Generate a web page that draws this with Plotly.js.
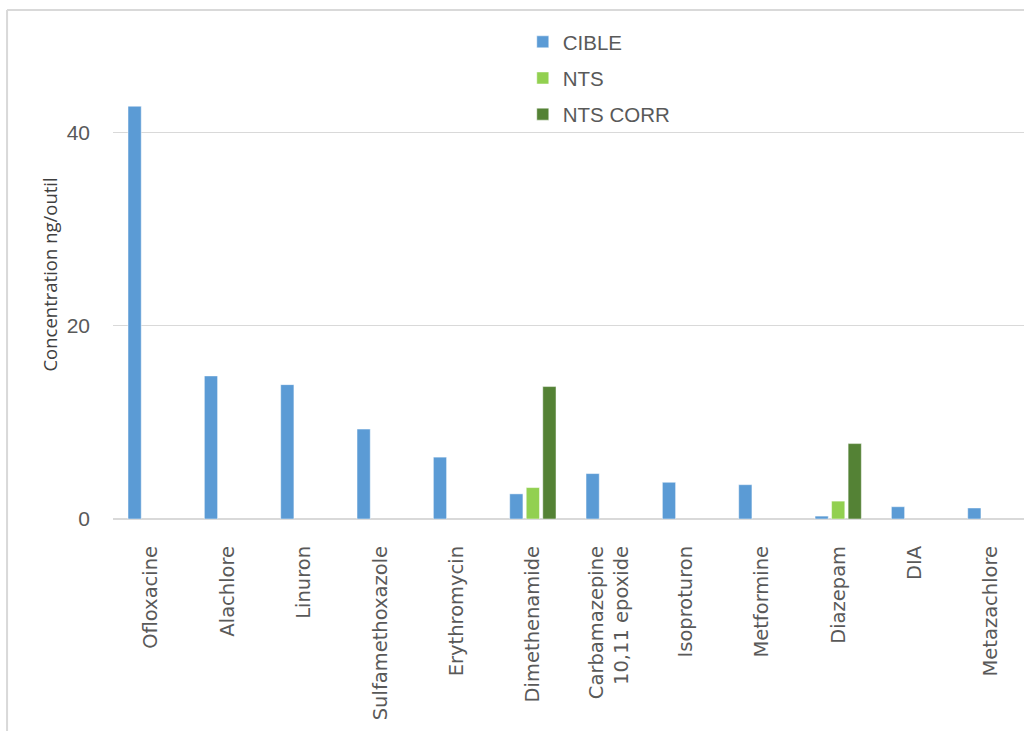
<!DOCTYPE html>
<html>
<head>
<meta charset="utf-8">
<script src="https://cdn.plot.ly/plotly-3.0.1.min.js"></script>
<style>
  html, body { margin: 0; padding: 0; background: #ffffff; }
  #chart { width: 1024px; height: 731px; }
</style>
</head>
<body>
<div id="chart"></div>
<script>
const categories = [
  "Ofloxacine", "Alachlore", "Linuron", "Sulfamethoxazole", "Erythromycin",
  "Dimethenamide", "Carbamazepine<br>10,11 epoxide", "Isoproturon",
  "Metformine", "Diazepam", "DIA", "Metazachlore"
];
const cible   = [42.7, 14.8, 13.9, 9.3, 6.4, 2.6, 4.7, 3.8, 3.55, 0.3, 1.27, 1.14];
const nts     = [null, null, null, null, null, 3.25, null, null, null, 1.85, null, null];
const ntsCorr = [null, null, null, null, null, 13.7, null, null, null, 7.8, null, null];
const seriesNames = ["CIBLE", "NTS", "NTS CORR"];
const seriesColors = ["#5b9bd5", "#92d050", "#548235"];
const yTicks = [0, 20, 40];

const xIdx = categories.map((c, i) => i);
const seriesData = [cible, nts, ntsCorr];

const traces = seriesData.map((vals, k) => ({
  type: "bar",
  name: seriesNames[k],
  x: xIdx,
  y: vals,
  legendgroup: "g" + k,
  marker: { color: seriesColors[k], line: { color: "rgba(255,255,255,0.6)", width: 0.8 } },
  hoverinfo: "skip"
}));

// Geometry helpers (paper coords)
const L = 113.4, R = 1024, T = 84, B = 519;
const px = x => (x - L) / (R - L);
const py = y => (B - y) / (B - T);

const layout = {
  width: 1024,
  height: 731,
  margin: { l: 113.4, r: 0, t: 84, b: 212, pad: 0 },
  paper_bgcolor: "#ffffff",
  plot_bgcolor: "#ffffff",
  barmode: "group",
  bargap: 0.35,
  bargroupgap: 0.2,
  showlegend: true,
  legend: {
    x: px(523), y: py(22), xanchor: "left", yanchor: "top",
    orientation: "v",
    traceorder: "grouped",
    tracegroupgap: 6.5,
    font: { family: "Liberation Sans Narrow, Arial Narrow, sans-serif", size: 20.5, color: "#595959" },
    bgcolor: "rgba(0,0,0,0)"
  },
  xaxis: {
    range: [-0.5, 11.434],
    tickmode: "array",
    tickvals: xIdx,
    ticktext: categories,
    tickangle: -90,
    ticks: "",
    showgrid: false,
    zeroline: false,
    showline: false,
    ticklabelstandoff: 22,
    tickfont: { family: "DejaVu Sans, sans-serif", size: 19.5, color: "#595959" },
    fixedrange: true
  },
  yaxis: {
    range: [0, 45],
    tickmode: "array",
    tickvals: yTicks,
    ticktext: yTicks.map(String),
    ticks: "",
    showgrid: true,
    gridcolor: "#d9d9d9",
    gridwidth: 1.3,
    zeroline: true,
    zerolinecolor: "#d9d9d9",
    zerolinewidth: 1.5,
    showline: false,
    ticklabelstandoff: 22,
    tickfont: { family: "Liberation Sans Narrow, Arial Narrow, sans-serif", size: 21, color: "#595959" },
    fixedrange: true
  },
  annotations: [{
    text: "Concentration ng/outil",
    xref: "paper", yref: "paper",
    x: px(49), y: py(275),
    xanchor: "center", yanchor: "middle",
    textangle: -90,
    showarrow: false,
    font: { family: "Open Sans, sans-serif", size: 18.5, color: "#404040" }
  }],
  shapes: [
    { type: "line", xref: "paper", yref: "paper", x0: px(7.5), x1: px(1030), y0: py(10), y1: py(10),
      line: { color: "#d9d9d9", width: 2 } },
    { type: "line", xref: "paper", yref: "paper", x0: px(7.5), x1: px(7.5), y0: py(10), y1: py(740),
      line: { color: "#d9d9d9", width: 2 } }
  ]
};

Plotly.newPlot("chart", traces, layout, { staticPlot: true, displayModeBar: false });
</script>
</body>
</html>
